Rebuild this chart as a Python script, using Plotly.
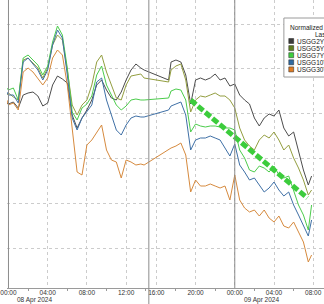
import plotly.graph_objects as go
import pandas as pd

# ---- time axis (London time), gap in data between 13:50 and 17:15 ----
times_pre = (["2024-04-07 23:50"]
             + [t.strftime("%Y-%m-%d %H:%M") for t in pd.date_range("2024-04-08 00:00", "2024-04-08 13:30", freq="30min")]
             + ["2024-04-08 13:50"])
times_post = (["2024-04-08 17:15"]
              + [t.strftime("%Y-%m-%d %H:%M") for t in pd.date_range("2024-04-08 17:30", "2024-04-09 07:30", freq="30min")]
              + ["2024-04-09 07:50"])
times = times_pre + times_post

# ---- normalized series values ----
usgg2yr = [185, 184, 186, 180, 193, 195, 196, 192, 182, 185, 203, 212, 209, 205, 173, 160, 170, 178, 188, 203,
           208, 198, 190, 188, 196, 208, 218, 224, 220, 218,
           208, 226, 228, 226, 213, 184, 208, 210, 208, 210, 214, 208, 210, 202, 204, 193, 188, 184, 170, 162,
           170, 174, 172, 178, 160, 152, 156, 138, 118, 103, 112]
usgg5yr = [193, 195, 191, 188, 228, 230, 225, 220, 210, 220, 243, 253, 248, 218, 183, 173, 183, 188, 203, 226,
           233, 216, 203, 190, 188, 203, 212, 213, 214, 210,
           206, 218, 222, 224, 208, 176, 188, 192, 191, 193, 195, 192, 192, 188, 180, 160, 148, 142, 138, 148,
           153, 150, 156, 148, 138, 143, 130, 120, 108, 93, 98]
usgg7yr = [200, 198, 200, 188, 230, 233, 228, 223, 213, 222, 246, 262, 253, 220, 176, 168, 180, 184, 192, 213,
           222, 203, 193, 183, 178, 182, 188, 189, 188, 188,
           190, 197, 199, 198, 188, 156, 164, 162, 161, 162, 162, 161, 160, 160, 158, 138, 130, 118, 116, 122,
           120, 116, 122, 113, 110, 112, 98, 83, 73, 58, 83]
usgg10yr = [196, 193, 193, 185, 226, 230, 224, 218, 208, 218, 243, 258, 250, 213, 170, 158, 170, 176, 183, 206,
            210, 188, 173, 158, 153, 163, 170, 172, 171, 171,
            178, 182, 184, 186, 173, 138, 148, 150, 150, 152, 150, 148, 140, 132, 144, 123, 116, 108, 110, 103,
            96, 100, 106, 98, 92, 96, 83, 73, 63, 52, 68]
usgg30yr = [188, 183, 185, 178, 216, 220, 216, 210, 203, 210, 230, 238, 233, 203, 158, 116, 113, 143, 148, 156,
            163, 138, 128, 126, 110, 128, 126, 123, 124, 123,
            138, 140, 142, 145, 133, 96, 108, 102, 102, 104, 102, 100, 102, 88, 113, 88, 80, 76, 78, 72,
            78, 70, 66, 72, 62, 60, 66, 56, 46, 26, 33]

trend_x = ["2024-04-08 19:30", "2024-04-09 07:24"]
trend_y = [188, 90]

series_names = ["USGG2YR Index", "USGG5YR Index", "USGG7YR Index", "USGG10YR Index", "USGG30YR Index"]
series_values = [usgg2yr, usgg5yr, usgg7yr, usgg10yr, usgg30yr]
line_colors = ["#4d4d4d", "#939e40", "#4ccc4c", "#3f70a6", "#d68a3e"]
swatch_colors = ["#3a3a3a", "#5f7d22", "#3fcf3f", "#2f6aa3", "#e07b22"]

tick_vals = ["2024-04-08 00:00", "2024-04-08 04:00", "2024-04-08 08:00", "2024-04-08 12:00",
             "2024-04-08 16:00", "2024-04-08 20:00", "2024-04-09 00:00", "2024-04-09 04:00",
             "2024-04-09 08:00"]
tick_text = ["00:00", "04:00", "08:00", "12:00", "16:00", "20:00", "00:00", "04:00", "08:00"]
minor_vals = ["2024-04-08 02:00", "2024-04-08 06:00", "2024-04-08 10:00", "2024-04-08 14:00",
              "2024-04-08 18:00", "2024-04-08 22:00", "2024-04-09 02:00", "2024-04-09 06:00"]
date_labels = ["08 Apr 2024", "09 Apr 2024"]
date_label_x = ["2024-04-08 02:38", "2024-04-09 02:42"]

fig = go.Figure()
for name, vals, col in zip(series_names, series_values, line_colors):
    fig.add_trace(go.Scatter(x=times, y=vals, mode="lines", name=name,
                             line=dict(color=col, width=1)))

fig.add_trace(go.Scatter(x=trend_x, y=trend_y, mode="lines", name="trend",
                         line=dict(color="#3ccc3c", width=5, dash="7px,2.5px")))

FONT = "Liberation Sans, Arial, sans-serif"
fig.update_layout(
    width=324, height=304,
    margin=dict(l=0, r=0, t=0, b=16),
    paper_bgcolor="white", plot_bgcolor="white",
    showlegend=False,
    font=dict(family=FONT, size=7, color="#333333"),
)
fig.update_xaxes(
    type="date",
    range=["2024-04-07 23:51", "2024-04-09 09:06"],
    rangebreaks=[dict(bounds=["2024-04-08 14:20", "2024-04-08 15:15"])],
    tickmode="array", tickvals=tick_vals, ticktext=tick_text,
    ticklabeloverflow="allow", ticklabelstandoff=-2,
    showgrid=True, gridcolor="#cccccc", griddash="dot", gridwidth=1,
    showline=True, linecolor="#9a9a9a", linewidth=1,
    ticks="", tickfont=dict(size=6.5, color="#333333", family=FONT),
    minor=dict(tickmode="array", tickvals=minor_vals, ticks="outside", ticklen=2,
               tickcolor="#9a9a9a", showgrid=False),
    zeroline=False,
)
fig.update_yaxes(
    range=[0, 288],
    tick0=40, dtick=44.8,
    showgrid=True, gridcolor="#cccccc", griddash="dot", gridwidth=1,
    showticklabels=False, zeroline=False, showline=False,
)

# solid day/session dividers
fig.add_shape(type="line", xref="x", yref="paper", x0="2024-04-08 00:00", x1="2024-04-08 00:00",
              y0=0, y1=1, line=dict(color="#8c8c8c", width=1))
fig.add_shape(type="line", xref="x", yref="paper", x0="2024-04-08 14:19", x1="2024-04-08 14:19",
              y0=-0.06, y1=1, line=dict(color="#8c8c8c", width=1))
fig.add_shape(type="line", xref="x", yref="paper", x0="2024-04-09 00:00", x1="2024-04-09 00:00",
              y0=0, y1=1, line=dict(color="#8c8c8c", width=1))

for txt, xv in zip(date_labels, date_label_x):
    fig.add_annotation(x=xv, xref="x", y=-0.0405, yref="paper", text=txt, showarrow=False,
                       font=dict(size=6.5, color="#333333", family=FONT), xanchor="center", yanchor="middle")

# legend box (partly outside the picture, as in the reference)
W, H = 324.0, 288.0
def px(xp):
    return xp / W
def py(yp):
    return (H - yp) / H

fig.add_shape(type="rect", xref="paper", yref="paper", x0=px(283), x1=px(340), y0=py(77), y1=py(18),
              fillcolor="white", line=dict(color="#9a9a9a", width=1), layer="above")
fig.add_annotation(x=px(287), y=py(27), xref="paper", yref="paper", text="Normalized Absolute",
                   showarrow=False, xanchor="left", yanchor="middle",
                   font=dict(size=6.5, color="#222222", family=FONT))
fig.add_annotation(x=px(313), y=py(34), xref="paper", yref="paper", text="Last Price",
                   showarrow=False, xanchor="left", yanchor="middle",
                   font=dict(size=6.5, color="#222222", family=FONT))
for i, (name, col) in enumerate(zip(series_names, swatch_colors)):
    yc = 41 + i * 7.1
    fig.add_shape(type="rect", xref="paper", yref="paper", x0=px(288), x1=px(293),
                  y0=py(yc + 2.5), y1=py(yc - 2.5), fillcolor=col,
                  line=dict(color="#222222", width=0.5), layer="above")
    fig.add_annotation(x=px(294.5), y=py(yc), xref="paper", yref="paper", text=name,
                       showarrow=False, xanchor="left", yanchor="middle",
                       font=dict(size=6.5, color="#222222", family=FONT))

fig.write_html("out.html")
